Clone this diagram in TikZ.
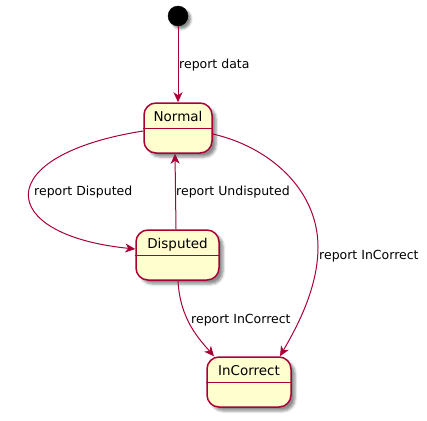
\documentclass[tikz,border=0pt]{standalone}
\usepackage{fontspec}
\setmainfont{DejaVu Sans}
\usetikzlibrary{arrows.meta,shadows.blur}
\definecolor{stfill}{HTML}{FEFECE}
\definecolor{stline}{HTML}{A80036}
\tikzset{
  stbox/.style={draw=stline, fill=stfill, line width=1.5pt, rounded corners=12pt,
    inner xsep=0pt, inner ysep=0pt, text height=18pt, text depth=32pt,
    font=\fontsize{13.5}{16}\selectfont,
    blur shadow={shadow xshift=4pt, shadow yshift=-4pt, shadow blur radius=2.5pt, shadow opacity=45}},
  initst/.style={circle, fill=black, draw=black, minimum size=20pt, inner sep=0pt,
    blur shadow={shadow xshift=3pt, shadow yshift=-3pt, shadow blur radius=2pt, shadow opacity=45}},
  conn/.style={draw=stline, line width=1pt, -{Stealth[length=10pt, width=9pt, inset=3pt]}},
  lab/.style={anchor=base west, inner sep=0pt, font=\fontsize{12.5}{15}\selectfont}
}
\begin{document}
\begin{tikzpicture}[x=1pt,y=-1pt]
\useasboundingbox (0,0) rectangle (427,420);
% states
\node[initst] (init) at (178,16) {};
\node[stbox, minimum width=68pt] (Normal) at (178,128) {Normal};
\node[stbox, minimum width=83pt] (Disputed) at (177.5,255) {Disputed};
\node[stbox, minimum width=84pt] (InCorrect) at (249,382) {InCorrect};
% dividers
\foreach \n in {Normal,Disputed,InCorrect}{
  \draw[stline, line width=1pt] ([yshift=-26pt]\n.north west) -- ([yshift=-26pt]\n.north east);
}
% connectors
\draw[conn] (init.south) -- (Normal.north);
\draw[conn] ([yshift=-3pt]Normal.west) .. controls (-10,155) and (-5,235) .. ([yshift=6pt]Disputed.west);
\draw[conn] ([xshift=-1.5pt]Disputed.north) -- ([xshift=-3pt]Normal.south);
\draw[conn] ([yshift=-6pt]Normal.east) .. controls (270,147) and (318,190) .. (318,247)
   .. controls (318,290) and (295,330) .. ([xshift=31pt]InCorrect.north);
\draw[conn] ([xshift=0.5pt]Disputed.south) .. controls (180,320) and (200,340) .. ([xshift=-35pt]InCorrect.north);
% labels
\node[lab] (l1) at (179,68) {report data};
\node[lab] (l2) at (34,195) {report Disputed};
\node[lab] (l3) at (176,195) {report Undisputed};
\node[lab] (l4) at (319,259) {report InCorrect};
\node[lab] (l5) at (191,323) {report InCorrect};
\end{tikzpicture}
\end{document}
